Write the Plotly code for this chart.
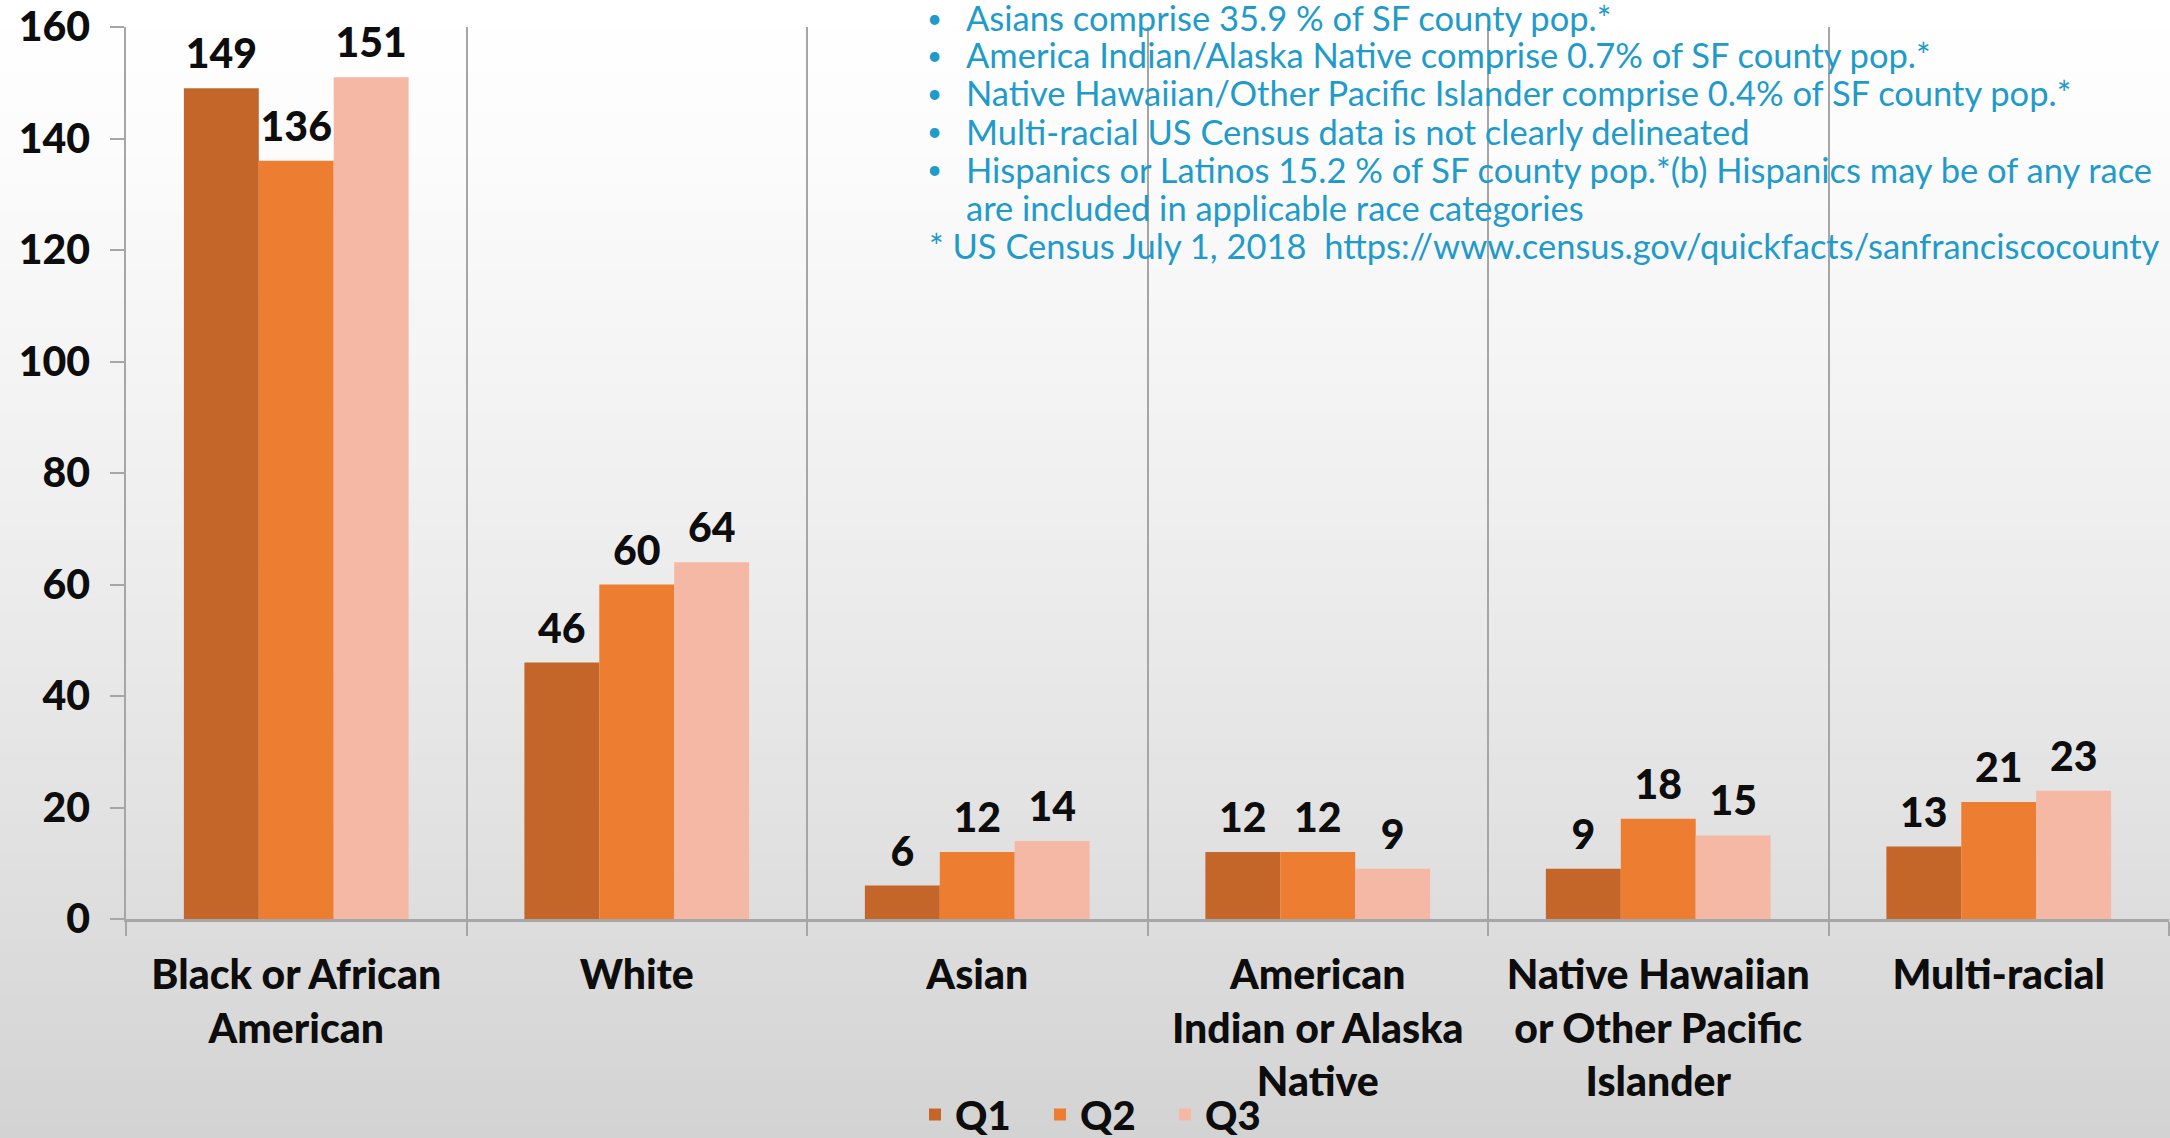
import plotly.graph_objects as go

# ---------------- data ----------------
categories = [
    "Black or African<br>American",
    "White",
    "Asian",
    "American<br>Indian or Alaska<br>Native",
    "Native Hawaiian<br>or Other Pacific<br>Islander",
    "Multi-racial",
]
q1 = [149, 46, 6, 12, 9, 13]
q2 = [136, 60, 12, 12, 18, 21]
q3 = [151, 64, 14, 9, 15, 23]
series_names = ["Q1", "Q2", "Q3"]
series_colors = ["#C4662A", "#ED7D31", "#F4B8A5"]
y_tick_values = [0, 20, 40, 60, 80, 100, 120, 140, 160]

bullet_notes = [
    "Asians comprise 35.9 % of SF county pop.*",
    "America Indian/Alaska Native comprise 0.7% of SF county pop.*",
    "Native Hawaiian/Other Pacific Islander comprise 0.4% of SF county pop.*",
    "Multi-racial US Census data is not clearly delineated",
    "Hispanics or Latinos 15.2 % of SF county pop.*(b) Hispanics may be of any race",
]
continuation_note = "are included in applicable race categories"
source_note = "* US Census July 1, 2018  https://www.census.gov/quickfacts/sanfranciscocounty"

# ---------------- layout geometry (pixels) ----------------
W_PAGE, H_PAGE = 2170, 1138
L, R, T, B = 126, 1, 27, 219
PW = W_PAGE - L - R
PH = H_PAGE - T - B


def px_x(px):
    return (px - L) / PW


def px_y(py):
    return (H_PAGE - B - py) / PH


FONT = "Lato"
NOTE_COLOR = "#1F9BCB"
AXIS_GRAY = "#A6A6A6"
TEXT_BLACK = "#0D0D0D"

fig = go.Figure()

values = [q1, q2, q3]
for name, vals, col in zip(series_names, values, series_colors):
    fig.add_trace(go.Bar(
        x=categories, y=vals, name=name,
        marker=dict(color=col, line=dict(width=0)),
        hoverinfo="x+y+name",
    ))

# value labels, grouped like the bars
for name, vals in zip(series_names, values):
    fig.add_trace(go.Scatter(
        x=categories, y=vals, mode="markers+text",
        text=[str(v) for v in vals], textposition="top center",
        marker=dict(size=14, color="rgba(0,0,0,0)"),
        textfont=dict(family=FONT, size=41, color=TEXT_BLACK, weight=900),
        showlegend=False, cliponaxis=False, hoverinfo="skip",
    ))

# ---------------- background gradient ----------------
shapes = []
n_bands = 80
for i in range(n_bands):
    y0 = i * H_PAGE / n_bands
    y1 = (i + 1) * H_PAGE / n_bands + 1
    t = (i + 0.5) / n_bands
    c = int(round(255 - 44 * t ** 1.25))
    shapes.append(dict(
        type="rect", xref="paper", yref="paper",
        x0=px_x(-2), x1=px_x(W_PAGE + 2), y0=px_y(y1), y1=px_y(y0),
        fillcolor=f"rgb({c},{c},{c})", line=dict(width=0), layer="below",
    ))

# ---------------- notes ----------------
annotations = []
line_y = [18, 55, 93, 131, 169, 207, 245]
NOTE_SIZE = 34.5
for i, txt in enumerate(bullet_notes):
    annotations.append(dict(
        xref="paper", yref="paper", x=px_x(934), y=px_y(line_y[i]),
        text="•", showarrow=False, xanchor="center", yanchor="middle",
        font=dict(family=FONT, size=26, color=NOTE_COLOR),
    ))
    annotations.append(dict(
        xref="paper", yref="paper", x=px_x(964), y=px_y(line_y[i]),
        text=txt, showarrow=False, xanchor="left", yanchor="middle",
        font=dict(family=FONT, size=NOTE_SIZE, color=NOTE_COLOR),
    ))
annotations.append(dict(
    xref="paper", yref="paper", x=px_x(964), y=px_y(line_y[5]),
    text=continuation_note, showarrow=False, xanchor="left", yanchor="middle",
    font=dict(family=FONT, size=NOTE_SIZE, color=NOTE_COLOR),
))
annotations.append(dict(
    xref="paper", yref="paper", x=px_x(927), y=px_y(line_y[6]),
    text=source_note, showarrow=False, xanchor="left", yanchor="middle",
    font=dict(family=FONT, size=NOTE_SIZE, color=NOTE_COLOR),
))

fig.update_layout(
    width=W_PAGE, height=H_PAGE,
    margin=dict(l=L, r=R, t=T, b=B, autoexpand=False),
    paper_bgcolor="#FFFFFF",
    plot_bgcolor="rgba(0,0,0,0)",
    barmode="group", bargap=0.34, bargroupgap=0,
    scattermode="group", scattergap=0.34,
    font=dict(family=FONT, color=TEXT_BLACK),
    shapes=shapes,
    annotations=annotations,
    showlegend=True,
    legend=dict(
        orientation="h", x=px_x(915), xanchor="left",
        y=px_y(1147), yanchor="bottom",
        font=dict(family=FONT, size=40, color=TEXT_BLACK, weight=900),
        bgcolor="rgba(0,0,0,0)", traceorder="normal",
        itemwidth=30, tracegroupgap=0,
        entrywidth=80, entrywidthmode="pixels",
    ),
    xaxis=dict(
        type="category", tickson="boundaries",
        ticks="outside", ticklen=14, tickcolor=AXIS_GRAY, tickwidth=1.5,
        showgrid=True, gridcolor=AXIS_GRAY, gridwidth=1.5,
        showline=True, linecolor=AXIS_GRAY, linewidth=3,
        tickfont=dict(family=FONT, size=41, color=TEXT_BLACK, weight=900),
        ticklabelstandoff=18,
    ),
    yaxis=dict(
        range=[0, 160], tickmode="array", tickvals=y_tick_values,
        ticks="outside", ticklen=14, tickcolor=AXIS_GRAY, tickwidth=1.5,
        showgrid=False, zeroline=False,
        showline=True, linecolor=AXIS_GRAY, linewidth=1.5,
        tickfont=dict(family=FONT, size=41, color=TEXT_BLACK, weight=900),
        ticklabelstandoff=12,
    ),
)

fig.write_html(
    "out.html",
    config={"displayModeBar": False},
    post_script="document.body.style.margin='0';document.body.style.overflow='hidden';",
)
